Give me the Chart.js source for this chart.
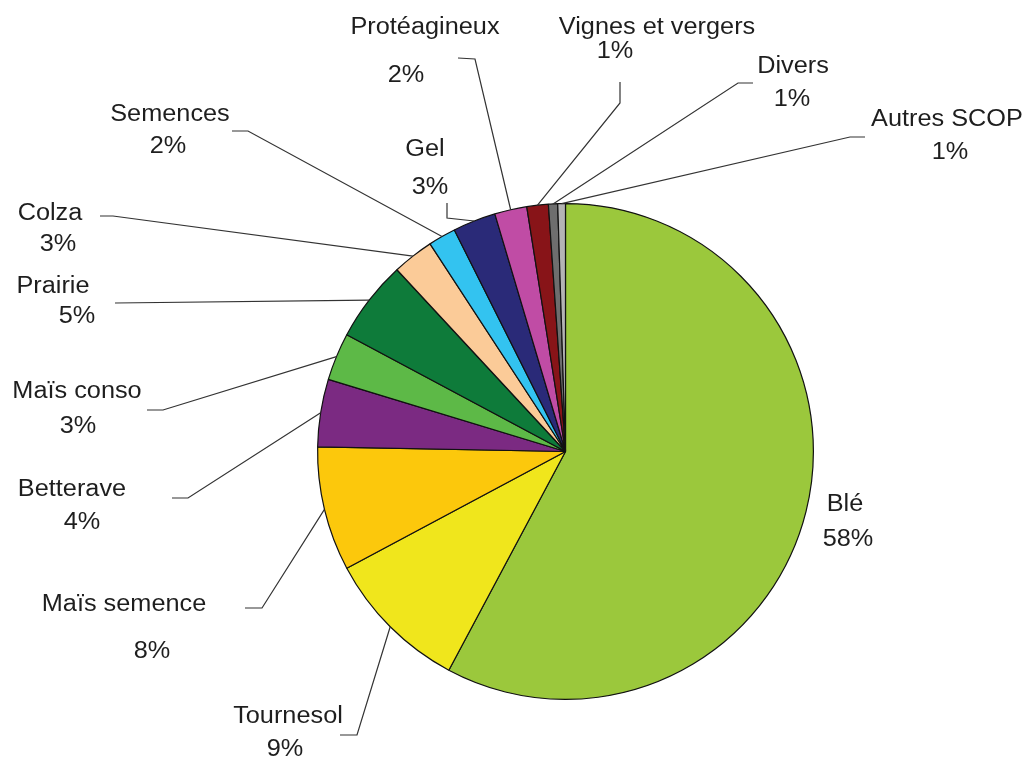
<!DOCTYPE html>
<html>
<head>
<meta charset="utf-8">
<script src="https://cdn.jsdelivr.net/npm/chart.js@4/dist/chart.umd.min.js"></script>
<style>
  html, body { margin: 0; padding: 0; background: #fff; }
  #wrap { width: 1024px; height: 760px; position: relative; }
</style>
</head>
<body>
<div id="wrap"><canvas id="pie" width="1024" height="760"></canvas></div>
<script>
// data (share of surface, %)
const categories = ['Blé', 'Tournesol', 'Maïs semence', 'Betterave', 'Maïs conso', 'Prairie',
  'Colza', 'Semences', 'Gel', 'Protéagineux', 'Vignes et vergers', 'Divers', 'Autres SCOP'];
const shares = [57.8, 9.4, 8.1, 4.4, 3.1, 5.3, 2.7, 1.8, 2.8, 2.1, 1.4, 0.6, 0.5];
const sliceColors = ['#9bc83c', '#f0e61c', '#fcc80c', '#7b2a82', '#5db947', '#0e7b3a',
  '#fbcb98', '#33c3f0', '#2a2a78', '#c04ca5', '#881418', '#6e6e6e', '#b4b4b4'];

// where each label sits, and the bends of its leader line (the line ends on the slice)
const labelLayout = [
  { name: [845, 505], pct: [848, 540], line: null },
  { name: [288, 717], pct: [285, 750], line: [[340, 735], [357, 735]] },
  { name: [124, 605], pct: [152, 652], line: [[245, 608], [262, 608]] },
  { name: [72, 490], pct: [82, 523], line: [[172, 498], [188, 498]] },
  { name: [77, 392], pct: [78, 427], line: [[147, 410], [163, 410]] },
  { name: [53, 287], pct: [77, 317], line: [[115, 303]] },
  { name: [50, 214], pct: [58, 245], line: [[100, 216], [113, 216]] },
  { name: [170, 115], pct: [168, 147], line: [[232, 131], [248, 131]] },
  { name: [425, 150], pct: [430, 188], line: [[447, 203], [447, 218]] },
  { name: [425, 28], pct: [406, 76], line: [[458, 58], [475, 59]] },
  { name: [657, 28], pct: [615, 52], line: [[620, 82], [620, 103]] },
  { name: [793, 67], pct: [792, 100], line: [[753, 83], [738, 83]] },
  { name: [947, 120], pct: [950, 153], line: [[865, 137], [850, 137]] }
];

function drawText(ctx, txt, x, y) {
  ctx.save();
  ctx.translate(x, y);
  ctx.scale(1.1, 1);
  ctx.fillText(txt, 0, 0);
  ctx.restore();
}

const labelPlugin = {
  id: 'labels',
  afterDatasetsDraw(chart) {
    const ctx = chart.ctx;
    const meta = chart.getDatasetMeta(0);
    ctx.save();
    ctx.strokeStyle = '#333';
    ctx.lineWidth = 1.2;
    ctx.fillStyle = '#1e1e1e';
    ctx.font = '23px "Liberation Sans", Arial, sans-serif';
    ctx.textAlign = 'center';
    ctx.textBaseline = 'middle';
    meta.data.forEach(function(arc, i) {
      const lay = labelLayout[i];
      const p = arc.getProps(['x', 'y', 'startAngle', 'endAngle', 'outerRadius'], true);
      const mid = (p.startAngle + p.endAngle) / 2;
      const ex = p.x + Math.cos(mid) * p.outerRadius;
      const ey = p.y + Math.sin(mid) * p.outerRadius;
      if (lay.line) {
        ctx.beginPath();
        ctx.moveTo(lay.line[0][0], lay.line[0][1]);
        for (let k = 1; k < lay.line.length; k++) {
          ctx.lineTo(lay.line[k][0], lay.line[k][1]);
        }
        ctx.lineTo(ex, ey);
        ctx.stroke();
      }
      drawText(ctx, categories[i], lay.name[0], lay.name[1]);
      drawText(ctx, Math.round(shares[i]) + '%', lay.pct[0], lay.pct[1]);
    });
    ctx.restore();
  }
};

new Chart(document.getElementById('pie'), {
  type: 'pie',
  data: {
    labels: categories,
    datasets: [{
      data: shares,
      backgroundColor: sliceColors,
      borderColor: '#111',
      borderWidth: 1.2
    }]
  },
  options: {
    responsive: false,
    animation: false,
    layout: { padding: { top: 203, bottom: 60, left: 317, right: 210 } },
    plugins: {
      legend: { display: false },
      tooltip: { enabled: false }
    }
  },
  plugins: [labelPlugin]
});
</script>
</body>
</html>
